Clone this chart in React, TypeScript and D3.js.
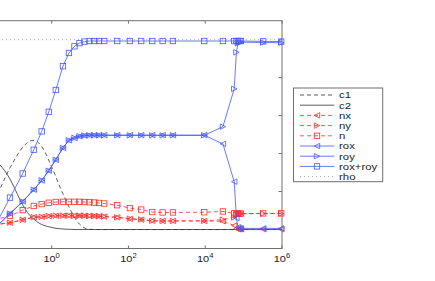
import React from 'react';
import * as d3 from 'd3';

// shared x grid for n, nx, ny, rox, roy, rox+roy
const X = [0.031, 0.082, 0.176, 0.342, 0.55, 0.84, 1.28, 1.97, 2.82, 3.93, 5.3, 7.14, 9.64, 12.9, 17.1, 23.4, 51, 109, 215, 417, 778, 1442, 9420, 28900, 56900, 64900, 71100, 77800, 85100, 323600, 955000];
const roxroy = [0.005, 0.168, 0.295, 0.42, 0.517, 0.62, 0.735, 0.86, 0.93, 0.965, 0.982, 0.99, 0.993, 0.993, 0.993, 0.993, 0.993, 0.993, 0.993, 0.993, 0.993, 0.993, 0.993, 0.993, 0.993, 0.993, 0.993, 0.993, 0.993, 0.991, 0.99];
const rox = [0.003, 0.084, 0.148, 0.21, 0.258, 0.31, 0.367, 0.43, 0.47, 0.482, 0.491, 0.495, 0.497, 0.497, 0.497, 0.497, 0.497, 0.497, 0.497, 0.497, 0.497, 0.497, 0.497, 0.451, 0.252, 0.06, 0.012, 0.007, 0.006, 0.006, 0.006];
const roy = [0.003, 0.084, 0.147, 0.21, 0.259, 0.31, 0.368, 0.43, 0.47, 0.483, 0.491, 0.495, 0.496, 0.496, 0.496, 0.496, 0.496, 0.496, 0.496, 0.496, 0.496, 0.496, 0.496, 0.542, 0.741, 0.933, 0.981, 0.986, 0.987, 0.985, 0.984];
const n = [0.05, 0.072, 0.102, 0.124, 0.134, 0.141, 0.145, 0.146, 0.146, 0.146, 0.146, 0.145, 0.144, 0.142, 0.14, 0.137, 0.128, 0.113, 0.105, 0.092, 0.09, 0.09, 0.091, 0.095, 0.085, 0.083, 0.083, 0.084, 0.084, 0.085, 0.085];
const nx = [0.025, 0.035, 0.051, 0.065, 0.067, 0.07, 0.072, 0.073, 0.073, 0.073, 0.073, 0.072, 0.072, 0.071, 0.07, 0.068, 0.064, 0.056, 0.052, 0.046, 0.045, 0.045, 0.045, 0.043, 0.021, 0.005, 0.001, 0.001, 0.001, 0.001, 0.001];
const ny = [0.025, 0.036, 0.051, 0.065, 0.067, 0.071, 0.073, 0.073, 0.073, 0.073, 0.073, 0.073, 0.072, 0.071, 0.07, 0.069, 0.064, 0.057, 0.053, 0.046, 0.045, 0.045, 0.046, 0.052, 0.064, 0.078, 0.082, 0.083, 0.083, 0.084, 0.084];

// x grid for the c1, c2 curves
const cX = [0.028, 0.045, 0.061, 0.082, 0.111, 0.149, 0.202, 0.272, 0.367, 0.496, 0.669, 0.904, 1.22, 1.64, 2.22, 3.0, 4.05, 5.46, 7.37, 9.94, 13.4, 1e6];
const c1 = [0.12, 0.213, 0.272, 0.325, 0.372, 0.414, 0.446, 0.467, 0.469, 0.449, 0.409, 0.35, 0.29, 0.224, 0.166, 0.108, 0.06, 0.026, 0.007, 0.001, 0, 0];
const c2 = [0.39, 0.34, 0.308, 0.266, 0.213, 0.158, 0.11, 0.073, 0.05, 0.031, 0.02, 0.013, 0.007, 0.004, 0.002, 0.001, 0, 0, 0, 0, 0, 0];

const rhoX = [1e-4, 1e6];
const rho = [1, 1];

const xTickExps = [-4, -2, 0, 2, 4, 6];
const yTicks = [0, 0.2, 0.4, 0.6, 0.8, 1];
const legendLabels = ['c1', 'c2', 'nx', 'ny', 'n', 'rox', 'roy', 'rox+roy', 'rho'];

const BLUE = '#4258ff';
const RED = '#ff2b2b';
const BLACK = '#333';
const AX = '#707070';

type Marker = 'none' | 'left' | 'right' | 'square';

interface Series {
  name: string;
  xs: number[];
  ys: number[];
  color: string;
  dash: string;
  marker: Marker;
  smooth?: boolean;
}

const FONT = '"Liberation Sans", Arial, Helvetica, sans-serif';

function MarkerShape({ type, x, y, color }: { type: Marker; x: number; y: number; color: string }) {
  const r = 2.7;
  if (type === 'square') {
    return <rect x={x - r} y={y - r} width={2 * r} height={2 * r} fill="none" stroke={color} strokeWidth={0.8} />;
  }
  if (type === 'left') {
    return <path d={`M${x - r},${y} L${x + r},${y - r} L${x + r},${y + r} Z`} fill="none" stroke={color} strokeWidth={0.8} />;
  }
  if (type === 'right') {
    return <path d={`M${x + r},${y} L${x - r},${y - r} L${x - r},${y + r} Z`} fill="none" stroke={color} strokeWidth={0.8} />;
  }
  return null;
}

export default function App() {
  const W = 435;
  const H = 281;
  const left = 51.7 - 4 * 38.4;
  const right = 282;
  const top = 20.7;
  const bottom = 248.5;

  const x = d3.scaleLog().domain([1e-4, 1e6]).range([left, right]);
  const y = d3.scaleLinear().domain([-0.1, 1.1]).range([bottom, top]);

  const series: Series[] = [
    { name: 'c1', xs: cX, ys: c1, color: BLACK, dash: '4,3', marker: 'none', smooth: true },
    { name: 'c2', xs: cX, ys: c2, color: BLACK, dash: '', marker: 'none', smooth: true },
    { name: 'nx', xs: X, ys: nx, color: RED, dash: '4,3', marker: 'left' },
    { name: 'ny', xs: X, ys: ny, color: RED, dash: '4,3', marker: 'right' },
    { name: 'n', xs: X, ys: n, color: RED, dash: '4,3', marker: 'square' },
    { name: 'rox', xs: X, ys: rox, color: BLUE, dash: '', marker: 'left' },
    { name: 'roy', xs: X, ys: roy, color: BLUE, dash: '', marker: 'right' },
    { name: 'rox+roy', xs: X, ys: roxroy, color: BLUE, dash: '', marker: 'square' },
    { name: 'rho', xs: rhoX, ys: rho, color: '#aaa', dash: '1,3', marker: 'none' },
  ];

  const makeLine = (s: Series) => {
    const pts: [number, number][] = s.xs.map((v, i) => [v, s.ys[i]]);
    const gen = d3
      .line<[number, number]>()
      .x((d) => x(d[0]))
      .y((d) => y(d[1]));
    if (s.smooth) gen.curve(d3.curveMonotoneX);
    return gen(pts) || '';
  };

  const legX = 293.5;
  const legY = 88;
  const legW = 89.2;
  const legH = 93.7;
  const legRow0 = 95;
  const legStep = 10.2;

  return (
    <svg
      width={W}
      height={H}
      style={{ position: 'absolute', left: 0, top: 0, background: '#fff' }}
      fontFamily={FONT}
    >
      <rect x={0} y={0} width={W} height={H} fill="#fff" />
      <defs>
        <clipPath id="plotclip">
          <rect x={left} y={top} width={right - left} height={bottom - top} />
        </clipPath>
      </defs>

      {/* axes box */}
      <rect x={left} y={top} width={right - left} height={bottom - top} fill="none" stroke={AX} strokeWidth={1} />

      {/* x ticks (labels left of the visible area are not drawn, as in the cropped original) */}
      {xTickExps.map((e) => {
        const px = x(Math.pow(10, e));
        return (
          <g key={'xt' + e}>
            <line x1={px} x2={px} y1={top} y2={top + 3} stroke={AX} strokeWidth={1} />
            <line x1={px} x2={px} y1={bottom} y2={bottom - 3} stroke={AX} strokeWidth={1} />
            {px > 15 && (
              <text
                transform={`translate(${px},261.5) scale(1.18,1)`}
                fontSize={9.3}
                textAnchor="middle"
                fill="#222"
              >
                10
                <tspan dy={-4} fontSize={6.5}>
                  {String(e)}
                </tspan>
              </text>
            )}
          </g>
        );
      })}

      {/* y ticks */}
      {yTicks.map((t) => {
        const py = y(t);
        return (
          <g key={'yt' + t}>
            <line x1={right} x2={right - 3.5} y1={py} y2={py} stroke={AX} strokeWidth={1} />
            <line x1={left} x2={left + 3.5} y1={py} y2={py} stroke={AX} strokeWidth={1} />
          </g>
        );
      })}

      {/* series */}
      {series.map((s) => (
        <g key={s.name}>
          <path
            d={makeLine(s)}
            fill="none"
            stroke={s.color}
            strokeWidth={s.name === 'rho' ? 1 : 0.8}
            strokeDasharray={s.dash || undefined}
            clipPath="url(#plotclip)"
          />
          {s.marker !== 'none' &&
            s.xs.map((v, i) => (
              <MarkerShape key={i} type={s.marker} x={x(v)} y={y(s.ys[i])} color={s.color} />
            ))}
        </g>
      ))}

      {/* legend */}
      <rect x={legX} y={legY} width={legW} height={legH} fill="#fff" stroke={AX} strokeWidth={1} />
      {series.map((s, i) => {
        const ly = legRow0 + i * legStep;
        return (
          <g key={'leg' + s.name}>
            <line
              x1={300}
              x2={334.3}
              y1={ly}
              y2={ly}
              stroke={s.color}
              strokeWidth={s.name === 'rho' ? 1 : 0.8}
              strokeDasharray={s.dash || undefined}
            />
            {s.marker !== 'none' && <MarkerShape type={s.marker} x={317} y={ly} color={s.color} />}
            <text transform={`translate(339,${ly + 3.3}) scale(1.2,1)`} fontSize={9.5} fill="#222">
              {legendLabels[i]}
            </text>
          </g>
        );
      })}
    </svg>
  );
}
